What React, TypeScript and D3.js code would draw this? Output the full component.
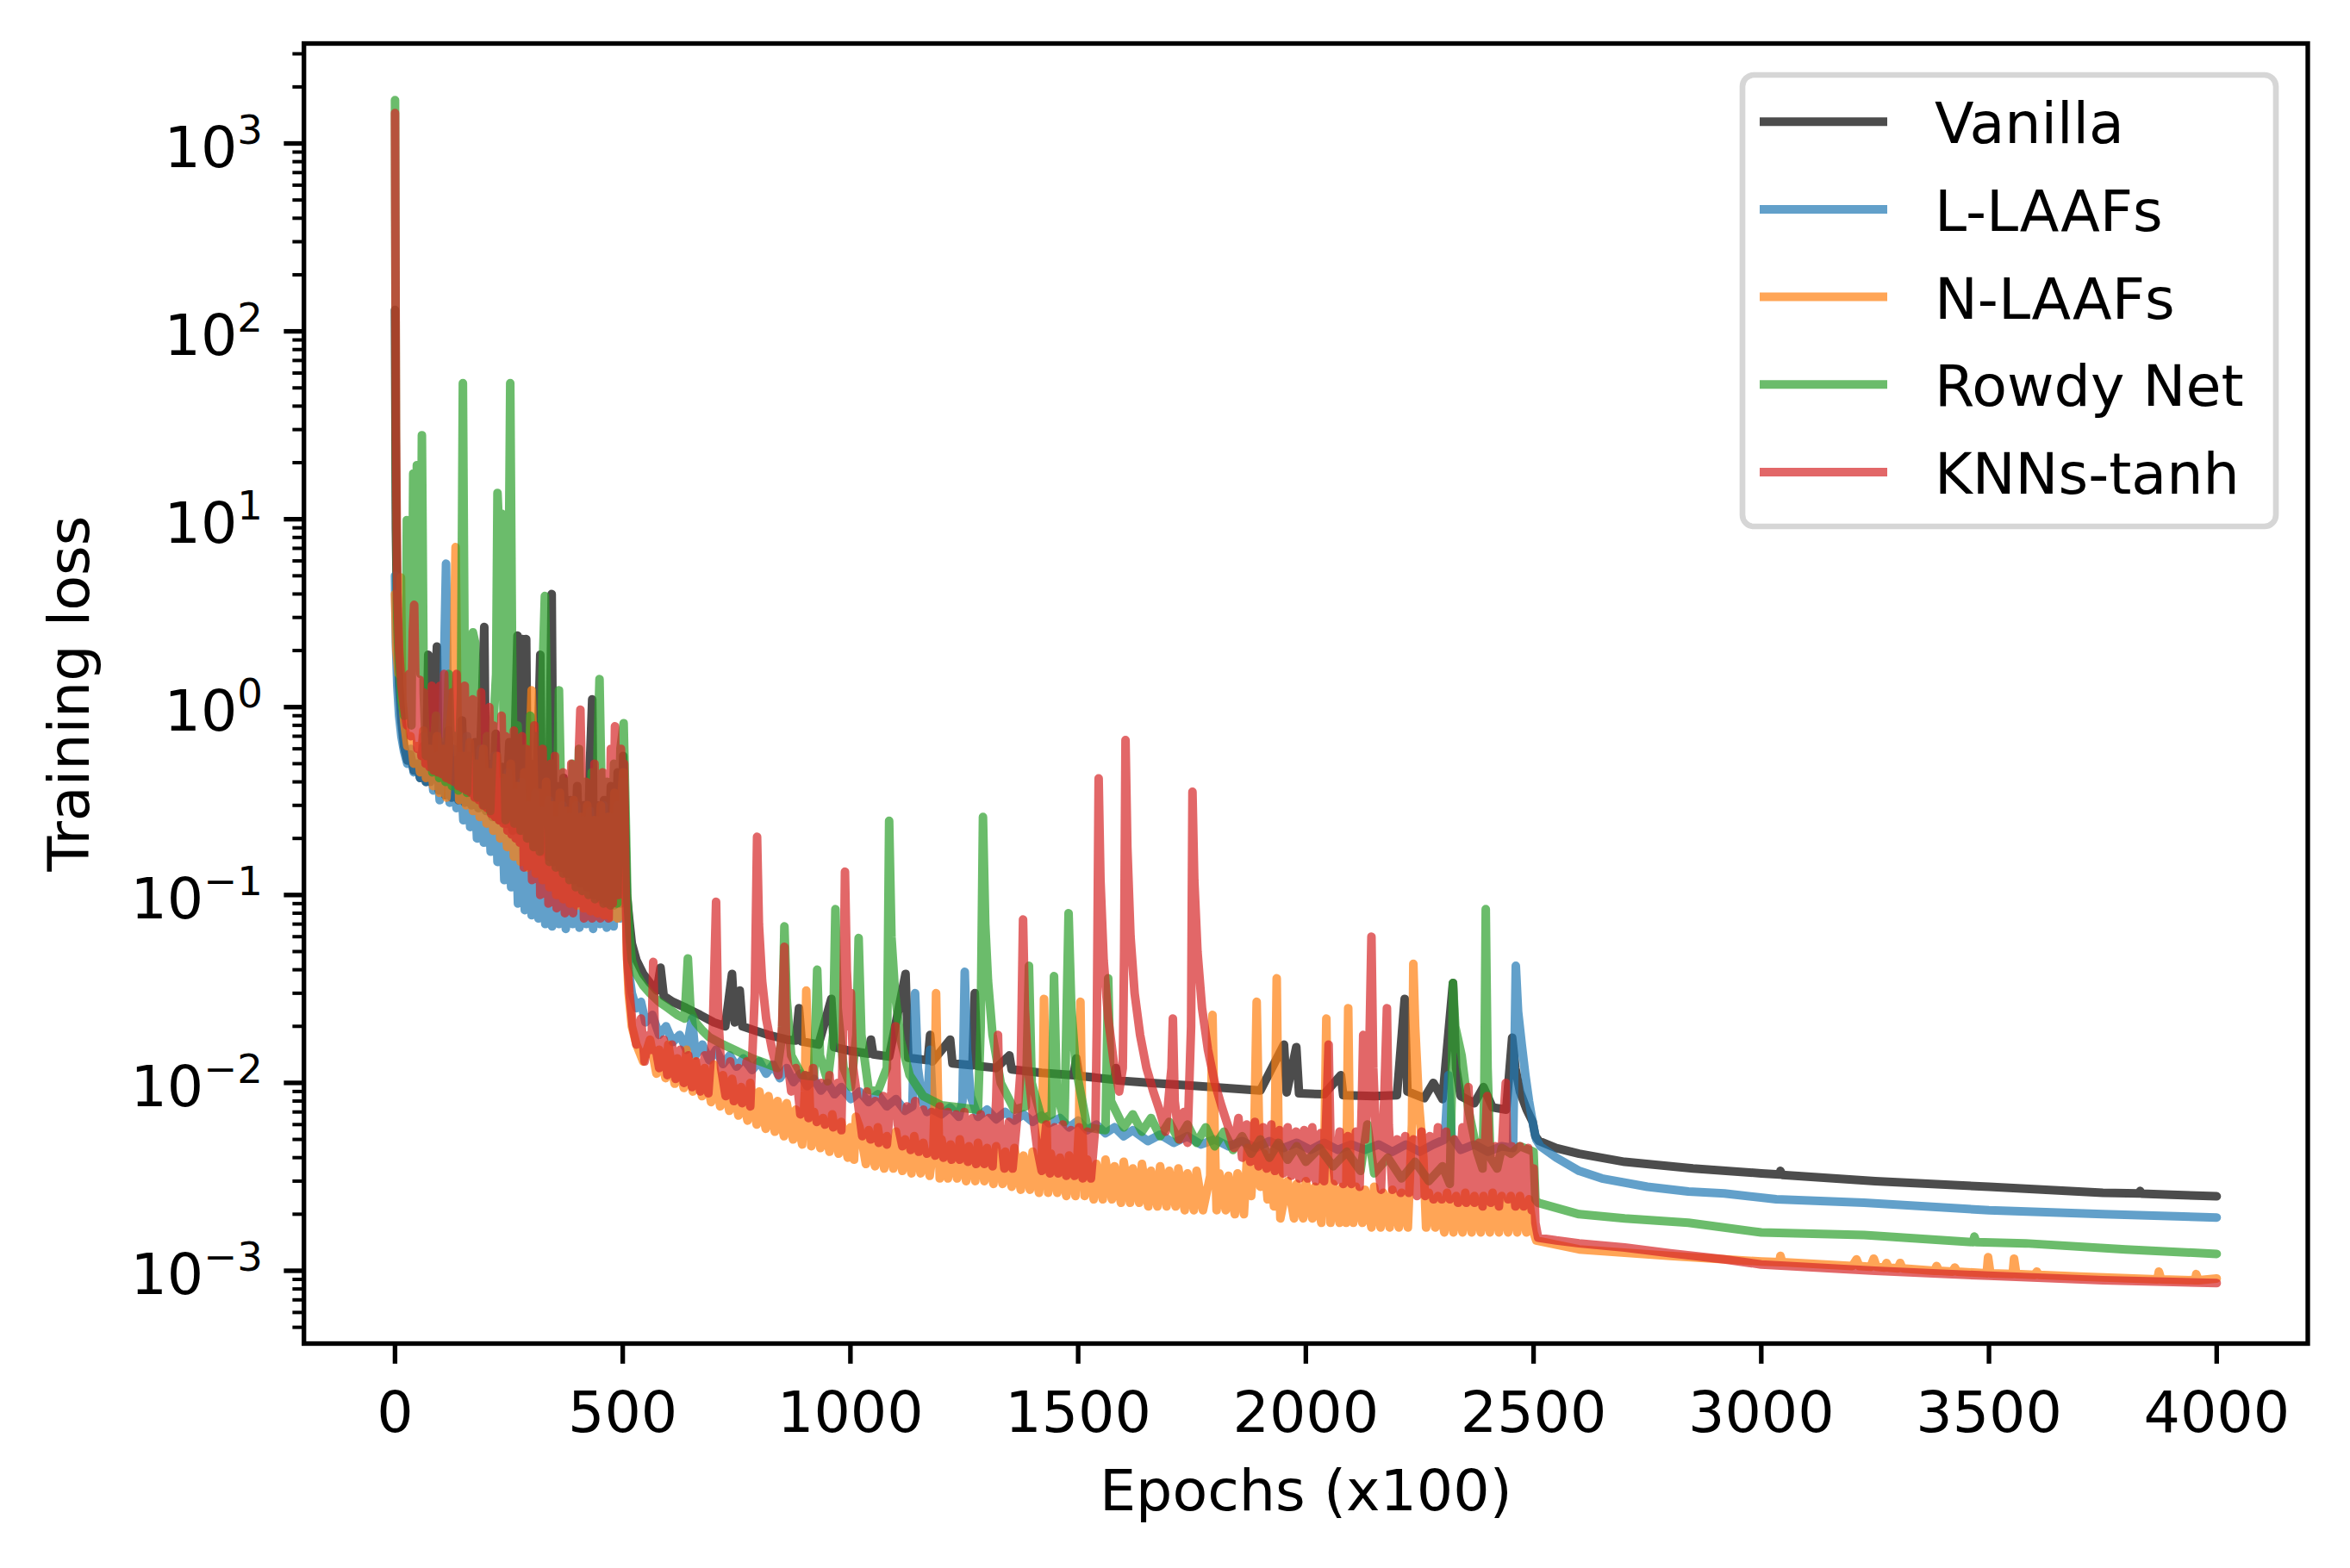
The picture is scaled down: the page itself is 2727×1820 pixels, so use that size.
import React from "react";
import * as d3 from "d3";

type P = [number, number];

const seriesNames = ["Vanilla", "L-LAAFs", "N-LAAFs", "Rowdy Net", "KNNs-tanh"];
const seriesColors = ["#000000", "#1f77b4", "#ff7f0e", "#2ca02c", "#d62728"];
const xTickValues = [0, 500, 1000, 1500, 2000, 2500, 3000, 3500, 4000];
const yDecades = [-3, -2, -1, 0, 1, 2, 3];
const xDomain = [-200, 4200];
const yDomainExp = [-3.3875, 3.532];

const vanilla: P[] = [
  [0,130],[2,9],[5,2.6],[9,1.3],[14,0.85],[20,0.62],[27,0.52],[34,0.56],[41,0.46],[48,0.5],[55,0.42],[62,0.62],[68,0.4],[73,1.9],[77,0.4],[84,0.55],[92,2.1],[96,0.36],[104,0.62],[110,0.34],[117,0.75],[124,0.33],[132,0.52],[139,0.32],[147,0.85],[153,0.31],[161,0.55],[168,0.3],[176,0.65],[183,0.29],[190,0.9],[196,2.67],[200,0.28],[207,0.5],[214,0.26],[221,0.72],[228,0.25],[236,0.48],[243,0.24],[251,0.65],[258,0.22],[264,0.8],[269,2.4],[273,0.22],[280,2.3],[284,0.3],[288,2.3],[292,0.2],[299,0.5],[305,0.18],[312,0.42],[319,1.9],[323,0.17],[330,0.45],[337,0.16],[344,4.0],[348,0.15],[355,0.38],[362,0.14],[370,0.42],[377,0.13],[385,0.32],[392,0.12],[400,0.38],[407,0.115],[415,0.3],[422,0.11],[428,0.5],[433,1.1],[437,0.1],[444,0.3],[451,0.095],[459,0.32],[466,0.09],[474,0.38],[481,0.088],[489,0.45],[496,0.09],[501,0.55],[505,0.25],[509,0.1],[514,0.075],[520,0.055],[530,0.045],[545,0.038],[560,0.034],[575,0.031],[583,0.041],[590,0.029],[610,0.027],[640,0.025],[670,0.023],[700,0.021],[725,0.02],[740,0.038],[746,0.021],[757,0.031],[763,0.02],[790,0.019],[820,0.018],[860,0.017],[880,0.0168],[887,0.025],[893,0.0166],[930,0.016],[958,0.028],[964,0.0155],[1000,0.0148],[1040,0.0143],[1045,0.017],[1050,0.0142],[1085,0.0138],[1121,0.038],[1127,0.0136],[1170,0.0132],[1175,0.018],[1180,0.013],[1219,0.017],[1224,0.0127],[1268,0.0124],[1273,0.03],[1279,0.0123],[1320,0.012],[1349,0.014],[1354,0.0118],[1420,0.0113],[1490,0.011],[1496,0.0135],[1502,0.0109],[1580,0.0104],[1583,0.012],[1587,0.0103],[1660,0.01],[1740,0.0097],[1820,0.0094],[1900,0.0091],[1952,0.016],[1958,0.0089],[1979,0.0155],[1985,0.0088],[2040,0.0087],[2077,0.011],[2082,0.0086],[2150,0.0085],[2200,0.0086],[2217,0.028],[2223,0.009],[2260,0.0083],[2280,0.01],[2300,0.0082],[2323,0.034],[2330,0.012],[2340,0.0085],[2370,0.0078],[2390,0.0095],[2410,0.0074],[2440,0.0072],[2453,0.0174],[2460,0.012],[2470,0.009],[2485,0.0072],[2498,0.0062],[2504,0.0052],[2512,0.0049],[2550,0.0045],[2600,0.0042],[2700,0.0038],[2850,0.0035],[3000,0.0033],[3040,0.00325],[3042,0.0034],[3046,0.00324],[3250,0.003],[3500,0.0028],[3750,0.0026],[3830,0.00258],[3832,0.00266],[3835,0.00257],[3900,0.00254],[4000,0.00249]
];

const lLaafs: P[] = [
  [0,5],[2,2.2],[5,1.3],[9,0.9],[14,0.7],[20,0.58],[27,0.5],[34,0.6],[41,0.45],[48,0.55],[55,0.42],[62,0.7],[68,0.4],[76,0.6],[84,0.36],[92,0.55],[98,0.32],[105,0.8],[112,5.8],[116,0.9],[120,0.31],[128,0.6],[135,0.29],[143,0.55],[150,0.25],[158,0.7],[165,0.23],[173,0.5],[180,0.2],[188,0.6],[195,0.19],[203,0.45],[210,0.17],[218,0.55],[225,0.15],[233,0.4],[240,0.12],[248,0.45],[255,0.11],[263,0.35],[270,0.09],[278,0.4],[285,0.083],[293,0.3],[300,0.078],[308,0.35],[315,0.075],[323,0.28],[330,0.07],[338,0.32],[345,0.068],[353,0.25],[360,0.07],[368,0.3],[375,0.066],[383,0.26],[390,0.07],[398,0.3],[405,0.067],[413,0.25],[420,0.07],[428,0.28],[435,0.066],[443,0.25],[450,0.07],[458,0.3],[465,0.067],[473,0.26],[480,0.068],[488,0.3],[495,0.075],[501,0.4],[505,0.2],[509,0.06],[513,0.04],[520,0.03],[530,0.025],[540,0.027],[550,0.021],[565,0.023],[580,0.018],[595,0.02],[610,0.0165],[625,0.018],[640,0.015],[652,0.022],[660,0.014],[675,0.016],[690,0.0132],[705,0.015],[720,0.0126],[735,0.014],[750,0.0122],[765,0.0135],[784,0.0117],[800,0.013],[815,0.0112],[830,0.0125],[845,0.0106],[860,0.012],[875,0.0101],[890,0.0112],[905,0.0096],[920,0.0105],[935,0.0091],[950,0.01],[965,0.0087],[980,0.0095],[1001,0.0082],[1020,0.009],[1040,0.0079],[1060,0.0087],[1080,0.0075],[1100,0.0082],[1120,0.0071],[1136,0.0075],[1142,0.03],[1148,0.012],[1158,0.008],[1168,0.007],[1175,0.015],[1181,0.0072],[1200,0.0068],[1219,0.0074],[1238,0.0066],[1246,0.008],[1251,0.039],[1256,0.015],[1264,0.0085],[1280,0.0066],[1300,0.0072],[1320,0.0064],[1340,0.007],[1360,0.0063],[1380,0.0068],[1400,0.0062],[1420,0.0067],[1436,0.0061],[1460,0.0065],[1480,0.0058],[1500,0.0063],[1520,0.0056],[1540,0.006],[1560,0.0054],[1580,0.0058],[1600,0.0052],[1620,0.0056],[1653,0.0049],[1680,0.0053],[1710,0.0048],[1740,0.0052],[1770,0.0047],[1800,0.005],[1830,0.0046],[1860,0.0049],[1890,0.0045],[1920,0.0049],[1950,0.0045],[1980,0.0048],[2010,0.0044],[2040,0.0048],[2070,0.0044],[2100,0.0047],[2130,0.0044],[2160,0.0047],[2190,0.0043],[2220,0.0047],[2250,0.0043],[2280,0.0047],[2305,0.005],[2313,0.011],[2320,0.0052],[2340,0.0044],[2370,0.0047],[2400,0.0043],[2430,0.0046],[2455,0.0045],[2461,0.042],[2466,0.024],[2474,0.016],[2482,0.011],[2490,0.008],[2496,0.0066],[2502,0.0055],[2506,0.005],[2515,0.0046],[2550,0.004],[2600,0.0034],[2650,0.0031],[2750,0.0028],[2840,0.00264],[2919,0.00258],[3033,0.0024],[3226,0.0023],[3500,0.0021],[3750,0.002],[4000,0.00192]
];

const nLaafs: P[] = [
  [0,4],[3,2],[8,1.5],[13,4.9],[16,1.1],[21,0.8],[27,0.62],[34,0.7],[41,0.5],[48,0.62],[55,0.45],[62,0.75],[68,0.42],[76,0.6],[84,0.38],[92,0.7],[98,0.35],[106,0.6],[113,0.33],[121,0.8],[128,1.2],[133,7.1],[137,1.0],[141,0.32],[149,0.55],[156,0.3],[164,0.65],[171,0.28],[179,0.5],[186,0.26],[194,0.6],[201,0.24],[209,0.45],[216,0.22],[224,0.55],[231,0.2],[239,0.42],[246,0.18],[254,0.5],[261,0.16],[269,0.38],[276,0.15],[284,0.45],[291,0.14],[296,0.6],[300,1.23],[304,0.5],[309,0.13],[317,0.35],[324,0.12],[332,0.4],[339,0.11],[347,0.3],[354,0.1],[362,0.35],[369,0.095],[377,0.28],[384,0.09],[392,0.32],[399,0.088],[407,0.26],[414,0.085],[422,0.3],[429,0.082],[437,0.25],[444,0.08],[452,0.3],[459,0.078],[467,0.26],[474,0.076],[482,0.35],[489,0.075],[496,0.3],[501,0.45],[505,0.15],[509,0.05],[513,0.03],[520,0.02],[530,0.016],[545,0.013],
  [560,0.017],[574,0.0112],[580,0.015],[594,0.0106],[600,0.016],[614,0.0099],[620,0.0135],[634,0.0094],[640,0.015],[654,0.009],[660,0.013],[674,0.0085],[680,0.012],[694,0.0079],[700,0.0125],[714,0.0075],[720,0.011],[734,0.0071],[740,0.0105],[754,0.0067],[760,0.0095],[774,0.0063],[780,0.01],[794,0.006],[800,0.009],[814,0.0057],[820,0.0085],[834,0.0055],[840,0.008],[854,0.0052],[860,0.0078],[874,0.005],[880,0.0072],[894,0.0047],[900,0.009],[903,0.031],[908,0.012],[914,0.0046],[920,0.007],[934,0.0045],[940,0.0065],[954,0.0043],[960,0.0068],[974,0.0042],[980,0.0062],[994,0.004],[1000,0.0058],[1008,0.0039],[1012,0.0066],[1020,0.0058],[1034,0.0037],[1040,0.0056],[1054,0.0036],[1060,0.0058],[1074,0.0035],[1080,0.0052],[1094,0.0035],[1100,0.0055],[1114,0.0034],[1120,0.005],[1134,0.0033],[1140,0.0052],[1154,0.0033],[1160,0.0048],[1174,0.0032],[1182,0.0045],[1185,0.008],[1188,0.03],[1192,0.009],[1196,0.0031],[1200,0.005],[1214,0.0031],[1220,0.0047],[1234,0.0031],[1240,0.005],[1254,0.003],[1260,0.0046],[1274,0.003],[1280,0.0048],[1294,0.003],[1300,0.0045],[1314,0.0029],[1320,0.0046],[1334,0.0029],[1340,0.0043],[1354,0.0028],[1360,0.0045],[1374,0.0027],[1380,0.0041],[1394,0.0027],[1400,0.0043],[1414,0.0026],[1420,0.0035],[1425,0.028],[1430,0.007],[1434,0.0026],[1440,0.0042],[1454,0.0026],[1460,0.004],[1474,0.0025],[1480,0.0041],[1494,0.0025],[1502,0.006],[1505,0.027],[1509,0.006],[1514,0.0025],[1520,0.0039],[1534,0.0024],[1540,0.0037],[1554,0.0024],[1560,0.0039],[1574,0.0024],[1580,0.0036],[1594,0.0023],[1600,0.0038],[1614,0.0023],[1620,0.0035],[1634,0.0023],[1640,0.0037],[1654,0.0022],[1660,0.0034],[1674,0.0022],[1680,0.0036],[1694,0.0022],[1700,0.0034],[1714,0.0022],[1720,0.0035],[1734,0.0021],[1740,0.0033],[1754,0.0021],[1760,0.0034],[1774,0.0021],[1790,0.0032],[1795,0.023],[1800,0.005],[1804,0.0021],[1810,0.0033],[1824,0.0021],[1830,0.0032],[1844,0.002],[1850,0.0033],[1864,0.002],[1872,0.0045],[1880,0.0025],[1886,0.0042],[1892,0.027],[1897,0.006],[1900,0.0028],[1908,0.0042],[1916,0.0024],[1922,0.004],[1930,0.0022],[1936,0.036],[1940,0.005],[1944,0.0019],[1960,0.003],[1974,0.0019],[1980,0.0029],[1994,0.0019],[2000,0.003],[2014,0.0019],[2020,0.0028],[2034,0.0018],[2041,0.005],[2045,0.022],[2049,0.004],[2054,0.0018],[2060,0.0029],[2074,0.0018],[2080,0.0028],[2088,0.0018],[2093,0.025],[2097,0.004],[2104,0.0018],[2110,0.0028],[2124,0.0018],[2130,0.0027],[2144,0.0017],[2150,0.0028],[2164,0.0017],[2170,0.0026],[2184,0.0017],[2190,0.0027],[2204,0.0017],[2210,0.0026],[2224,0.0017],[2233,0.006],[2236,0.043],[2240,0.02],[2248,0.008],[2258,0.004],[2264,0.0017],[2270,0.0026],[2284,0.0017],[2290,0.0025],[2304,0.0016],[2310,0.0026],[2324,0.0016],[2330,0.0025],[2344,0.0016],[2350,0.0026],[2364,0.0016],[2370,0.0025],[2384,0.0016],[2390,0.0025],[2404,0.0016],[2410,0.0026],[2424,0.0016],[2430,0.0025],[2444,0.0016],[2450,0.0025],[2464,0.0016],[2470,0.0025],[2484,0.0016],[2490,0.0024],[2500,0.0016],
  [2506,0.00145],[2600,0.0013],[2800,0.0012],[3000,0.00112],[3040,0.00111],[3042,0.0012],[3046,0.00111],[3200,0.00106],[3209,0.00115],[3215,0.00106],[3240,0.00105],[3247,0.00116],[3253,0.00105],[3270,0.00104],[3275,0.0011],[3280,0.00104],[3300,0.00103],[3305,0.0011],[3310,0.00103],[3380,0.001],[3385,0.00106],[3390,0.001],[3420,0.00099],[3425,0.00104],[3430,0.00099],[3495,0.00097],[3498,0.00118],[3503,0.00097],[3552,0.00096],[3555,0.00116],[3560,0.00096],[3600,0.00095],[3605,0.00099],[3610,0.00095],[3700,0.00093],[3870,0.0009],[3873,0.00099],[3878,0.0009],[3953,0.00089],[3955,0.00096],[3960,0.00089],[4000,0.00091]
];

const rowdy: P[] = [
  [0,1700],[2,20],[5,3],[9,1.6],[14,1.1],[20,0.9],[24,1.5],[26,9.9],[29,1.2],[33,3],[36,0.8],[40,17.5],[44,4],[48,19.4],[52,5],[56,1.5],[59,28],[63,1.2],[68,0.55],[75,0.7],[82,0.45],[90,0.9],[97,0.42],[104,0.65],[111,0.4],[118,1.5],[125,0.38],[132,0.7],[139,0.36],[145,1.2],[149,53],[153,1.5],[158,0.35],[164,1.2],[171,2.5],[176,2.2],[181,0.33],[188,0.6],[195,0.3],[202,0.7],[209,0.28],[216,0.8],[222,1.5],[225,13.8],[229,8],[234,10.7],[238,1.0],[243,0.25],[249,3],[253,53],[257,2],[262,0.24],[269,0.8],[276,0.22],[283,0.6],[290,0.2],[297,0.9],[304,0.18],[311,0.7],[318,0.17],[324,1.5],[329,3.9],[334,1.0],[339,0.15],[346,0.5],[353,0.14],[360,1.23],[364,0.4],[369,0.13],[376,0.4],[383,0.12],[390,0.5],[397,0.11],[404,0.6],[411,0.105],[418,0.4],[425,0.1],[432,0.45],[439,0.095],[445,0.6],[449,1.41],[453,0.4],[458,0.09],[466,0.4],[473,0.088],[481,0.5],[488,0.09],[495,0.6],[502,0.82],[506,0.3],[510,0.1],[515,0.06],[520,0.045],[530,0.038],[545,0.033],[560,0.03],[580,0.027],[600,0.025],[620,0.023],[636,0.022],[643,0.046],[649,0.024],[660,0.021],[675,0.019],[690,0.0175],[720,0.016],[750,0.0148],[784,0.0135],[810,0.0128],[840,0.012],[850,0.018],[855,0.068],[860,0.028],[870,0.014],[893,0.011],[920,0.0108],[927,0.04],[933,0.014],[950,0.0102],[962,0.018],[967,0.084],[972,0.025],[985,0.012],[1001,0.0095],[1013,0.018],[1018,0.059],[1024,0.018],[1040,0.0092],[1060,0.009],[1080,0.012],[1085,0.248],[1090,0.06],[1098,0.03],[1110,0.017],[1130,0.011],[1160,0.0085],[1200,0.0076],[1240,0.0074],[1280,0.0072],[1286,0.02],[1291,0.26],[1296,0.07],[1302,0.035],[1312,0.018],[1330,0.01],[1360,0.0072],[1385,0.0075],[1392,0.042],[1398,0.01],[1420,0.0064],[1442,0.0068],[1447,0.037],[1453,0.009],[1470,0.0062],[1479,0.08],[1485,0.025],[1495,0.012],[1520,0.0058],[1560,0.0056],[1566,0.036],[1572,0.008],[1600,0.0058],[1620,0.0068],[1640,0.0055],[1660,0.0065],[1680,0.0052],[1700,0.0062],[1720,0.005],[1740,0.006],[1760,0.0048],[1780,0.0058],[1800,0.0046],[1820,0.0055],[1840,0.0044],[1860,0.0052],[1880,0.0042],[1900,0.005],[1920,0.004],[1940,0.0048],[1960,0.0039],[1980,0.0046],[2000,0.0038],[2030,0.0045],[2060,0.0036],[2090,0.0043],[2120,0.0034],[2135,0.006],[2150,0.0033],[2180,0.004],[2210,0.0031],[2240,0.0038],[2270,0.003],[2300,0.0036],[2316,0.0029],[2320,0.008],[2323,0.034],[2328,0.02],[2342,0.014],[2357,0.0072],[2376,0.0043],[2388,0.0035],[2392,0.01],[2395,0.084],[2399,0.012],[2405,0.004],[2420,0.0035],[2430,0.0045],[2450,0.0042],[2470,0.0046],[2490,0.0044],[2500,0.0043],[2504,0.0024],[2510,0.0023],[2600,0.002],[2700,0.0019],[2840,0.0018],[3000,0.0016],[3226,0.00155],[3465,0.00142],[3468,0.00152],[3472,0.00142],[3580,0.0014],[3800,0.0013],[4000,0.00123]
];

const knnsTanh: P[] = [
  [0,1450],[2,30],[5,4],[9,2],[14,1.3],[20,1.0],[26,0.8],[31,1.5],[35,0.7],[39,2.5],[42,3.5],[45,1.2],[49,0.6],[54,1.4],[58,0.55],[63,1.2],[67,0.5],[72,1.1],[76,0.48],[81,1.3],[85,0.46],[90,1.0],[94,0.45],[99,1.3],[103,0.44],[108,1.5],[112,0.42],[117,0.9],[121,0.41],[126,1.2],[130,0.4],[135,1.5],[139,0.38],[144,1.0],[148,0.37],[153,1.3],[157,0.36],[162,0.8],[166,0.35],[171,1.1],[175,0.33],[180,0.9],[184,0.32],[189,1.2],[193,0.3],[198,0.7],[202,0.29],[207,1.0],[211,0.27],[216,0.8],[220,0.26],[225,0.6],[229,0.25],[234,0.9],[238,0.24],[243,0.7],[247,0.22],[252,0.55],[256,0.21],[261,0.75],[265,0.2],[270,0.5],[274,0.19],[279,0.7],[283,0.14],[288,0.6],[292,0.17],[297,0.45],[301,0.12],[306,0.8],[310,0.15],[315,0.5],[319,0.1],[324,0.6],[328,0.14],[333,0.4],[337,0.09],[342,0.5],[346,0.12],[351,0.55],[355,0.085],[360,0.4],[364,0.11],[369,0.45],[373,0.08],[378,0.35],[382,0.1],[387,0.5],[391,0.08],[396,0.3],[400,0.09],[404,0.6],[407,0.97],[411,0.3],[415,0.075],[420,0.4],[424,0.09],[429,0.3],[433,0.075],[438,0.5],[442,0.085],[447,0.35],[451,0.075],[456,0.45],[460,0.08],[465,0.3],[469,0.075],[474,0.6],[478,0.09],[483,0.79],[487,0.2],[491,0.1],[496,0.6],[500,0.4],[503,0.5],[506,0.12],[510,0.045],
  [515,0.03],[522,0.02],[530,0.016],[540,0.022],[548,0.013],[558,0.018],[563,0.015],[567,0.044],[571,0.016],[580,0.012],[590,0.017],[598,0.011],[608,0.016],[616,0.0105],[626,0.015],[634,0.01],[644,0.014],[652,0.0095],[662,0.013],[670,0.009],[680,0.014],[688,0.0088],[698,0.02],[705,0.092],[709,0.025],[716,0.012],[726,0.0085],[736,0.013],[744,0.008],[754,0.012],[762,0.0078],[772,0.013],[780,0.0075],[790,0.03],[795,0.204],[799,0.07],[806,0.035],[815,0.022],[828,0.015],[842,0.011],[850,0.02],[855,0.053],[859,0.015],[870,0.009],[880,0.012],[890,0.0068],[900,0.011],[908,0.0065],[918,0.012],[926,0.0062],[936,0.01],[944,0.006],[954,0.011],[962,0.0058],[972,0.01],[980,0.0056],[985,0.03],[988,0.133],[992,0.04],[998,0.02],[1001,0.03],[1006,0.012],[1016,0.008],[1026,0.0052],[1036,0.009],[1044,0.005],[1054,0.008],[1062,0.0048],[1072,0.0085],[1080,0.0047],[1090,0.009],[1099,0.02],[1104,0.006],[1114,0.0046],[1124,0.0075],[1132,0.0044],[1142,0.008],[1150,0.0043],[1160,0.0072],[1168,0.0042],[1178,0.007],[1186,0.0041],[1196,0.0075],[1204,0.004],[1214,0.007],[1222,0.0039],[1232,0.0068],[1240,0.0039],[1250,0.007],[1258,0.0038],[1268,0.0065],[1276,0.0037],[1286,0.0068],[1294,0.0037],[1304,0.0065],[1312,0.0036],[1320,0.008],[1324,0.018],[1328,0.006],[1338,0.0035],[1348,0.0062],[1356,0.0035],[1366,0.0065],[1374,0.012],[1379,0.074],[1383,0.025],[1390,0.012],[1400,0.007],[1410,0.0045],[1420,0.0034],[1430,0.006],[1438,0.0033],[1448,0.0058],[1456,0.0033],[1466,0.006],[1474,0.0032],[1484,0.0056],[1492,0.0032],[1502,0.0058],[1510,0.0031],[1520,0.0055],[1528,0.0031],[1538,0.006],[1541,0.02],[1545,0.417],[1549,0.12],[1556,0.045],[1566,0.022],[1578,0.013],[1590,0.009],[1598,0.012],[1601,0.05],[1604,0.668],[1608,0.18],[1615,0.06],[1624,0.03],[1636,0.018],[1650,0.012],[1665,0.009],[1680,0.007],[1692,0.0055],[1700,0.009],[1705,0.012],[1708,0.022],[1712,0.008],[1722,0.005],[1732,0.007],[1740,0.0048],[1748,0.02],[1751,0.354],[1755,0.12],[1762,0.05],[1772,0.025],[1785,0.015],[1800,0.01],[1815,0.0075],[1830,0.0058],[1842,0.0045],[1852,0.0065],[1860,0.004],[1870,0.006],[1878,0.0038],[1888,0.0062],[1896,0.0036],[1906,0.0058],[1914,0.0035],[1924,0.006],[1932,0.0034],[1942,0.0056],[1950,0.0033],[1960,0.0058],[1968,0.0032],[1978,0.0055],[1986,0.0031],[1996,0.0056],[2004,0.0031],[2014,0.0058],[2022,0.003],[2032,0.0054],[2040,0.003],[2046,0.008],[2050,0.016],[2054,0.005],[2064,0.003],[2074,0.0055],[2082,0.0029],[2092,0.0052],[2100,0.0029],[2110,0.0055],[2118,0.0028],[2123,0.008],[2126,0.018],[2130,0.005],[2138,0.01],[2144,0.06],[2148,0.012],[2155,0.0045],[2165,0.0027],[2172,0.008],[2178,0.025],[2182,0.006],[2190,0.0027],[2200,0.005],[2208,0.0026],[2218,0.0052],[2226,0.0026],[2236,0.005],[2244,0.0025],[2254,0.0055],[2262,0.0025],[2272,0.0052],[2280,0.0024],[2290,0.0058],[2298,0.0024],[2308,0.0055],[2316,0.0024],[2326,0.005],[2334,0.0023],[2344,0.0058],[2352,0.0023],[2357,0.0095],[2362,0.0045],[2370,0.0023],[2380,0.0048],[2388,0.0022],[2398,0.0085],[2406,0.0023],[2416,0.0046],[2424,0.0022],[2434,0.0065],[2439,0.01],[2444,0.0024],[2452,0.0046],[2460,0.0022],[2470,0.0046],[2478,0.0022],[2488,0.0045],[2496,0.0021],[2500,0.0035],[2504,0.0018],[2510,0.0015],[2550,0.00145],[2600,0.0014],[2700,0.00133],[2800,0.00124],[2919,0.00115],[3000,0.00108],[3250,0.001],[3500,0.00094],[3750,0.00089],[4000,0.00086]
];

const seriesData: P[][] = [vanilla, lLaafs, nLaafs, rowdy, knnsTanh];

const W = 2727;
const H = 1820;
const PLOT = { left: 352.7, right: 2678, top: 50.5, bottom: 1559.5 };
const PT = 480 / 72;
const FONT = 10 * PT;
const FAMILY = "'DejaVu Sans', sans-serif";

export default function App() {
  const x = d3.scaleLinear().domain(xDomain).range([PLOT.left, PLOT.right]);
  const y = d3
    .scaleLog()
    .domain([Math.pow(10, yDomainExp[0]), Math.pow(10, yDomainExp[1])])
    .range([PLOT.bottom, PLOT.top]);
  const line = d3
    .line<P>()
    .x((d) => x(d[0]))
    .y((d) => y(d[1]));

  const [yLo, yHi] = y.domain();
  const minor: number[] = [];
  for (let d = -4; d <= 3; d++) {
    for (let k = 2; k <= 9; k++) {
      const v = k * Math.pow(10, d);
      if (v >= yLo && v <= yHi) minor.push(v);
    }
  }

  const majorLen = 3.5 * PT;
  const minorLen = 2 * PT;
  const majorW = 0.8 * PT;
  const minorW = 0.6 * PT;
  const lw = 1.5 * PT;

  const legX = 2022;
  const legY = 87;
  const legW = 619;
  const legH = 524;
  const rowY0 = 141.2;
  const rowStep = 101.7;

  return (
    <div style={{ position: "absolute", left: 0, top: 0, background: "#fff" }}>
      <svg width={W} height={H} viewBox={`0 0 ${W} ${H}`} style={{ display: "block" }}>
        <rect x={0} y={0} width={W} height={H} fill="#ffffff" />
        <defs>
          <clipPath id="plotclip">
            <rect x={PLOT.left} y={PLOT.top} width={PLOT.right - PLOT.left} height={PLOT.bottom - PLOT.top} />
          </clipPath>
        </defs>
        <g clipPath="url(#plotclip)">
          {seriesData.map((s, i) => (
            <path
              key={seriesNames[i]}
              d={line(s) || ""}
              fill="none"
              stroke={seriesColors[i]}
              strokeOpacity={0.7}
              strokeWidth={lw}
              strokeLinejoin="round"
              strokeLinecap="round"
            />
          ))}
        </g>

        <rect
          x={PLOT.left}
          y={PLOT.top}
          width={PLOT.right - PLOT.left}
          height={PLOT.bottom - PLOT.top}
          fill="none"
          stroke="#000"
          strokeWidth={majorW}
        />

        {xTickValues.map((t) => (
          <g key={`xt${t}`}>
            <line x1={x(t)} x2={x(t)} y1={PLOT.bottom} y2={PLOT.bottom + majorLen} stroke="#000" strokeWidth={majorW} />
            <text x={x(t)} y={1662} textAnchor="middle" fontFamily={FAMILY} fontSize={FONT} fill="#000">
              {String(t)}
            </text>
          </g>
        ))}

        {minor.map((v, i) => (
          <line key={`ym${i}`} x1={PLOT.left - minorLen} x2={PLOT.left} y1={y(v)} y2={y(v)} stroke="#000" strokeWidth={minorW} />
        ))}

        {yDecades.map((e) => {
          const yy = y(Math.pow(10, e));
          const expText = e < 0 ? `\u2212${-e}` : `${e}`;
          return (
            <g key={`yt${e}`}>
              <line x1={PLOT.left - majorLen} x2={PLOT.left} y1={yy} y2={yy} stroke="#000" strokeWidth={majorW} />
              <text x={305} y={yy + 27} textAnchor="end" fontFamily={FAMILY} fontSize={FONT} fill="#000">
                10
                <tspan dy={-27} fontSize={FONT * 0.7}>
                  {expText}
                </tspan>
              </text>
            </g>
          );
        })}

        <text x={(PLOT.left + PLOT.right) / 2} y={1753} textAnchor="middle" fontFamily={FAMILY} fontSize={FONT} fill="#000">
          Epochs (x100)
        </text>
        <text
          transform={`translate(103, ${(PLOT.top + PLOT.bottom) / 2}) rotate(-90)`}
          textAnchor="middle"
          fontFamily={FAMILY}
          fontSize={FONT}
          fill="#000"
        >
          Training loss
        </text>

        <rect
          x={legX}
          y={legY}
          width={legW}
          height={legH}
          rx={0.2 * FONT}
          ry={0.2 * FONT}
          fill="#ffffff"
          fillOpacity={0.8}
          stroke="#cccccc"
          strokeOpacity={0.8}
          strokeWidth={1.0 * PT}
        />
        {seriesNames.map((name, i) => {
          const ry = rowY0 + i * rowStep;
          return (
            <g key={`lg${name}`}>
              <line x1={2042} x2={2190} y1={ry} y2={ry} stroke={seriesColors[i]} strokeOpacity={0.7} strokeWidth={lw} />
              <text x={2245} y={ry + 25} fontFamily={FAMILY} fontSize={FONT} fill="#000">
                {name}
              </text>
            </g>
          );
        })}
      </svg>
    </div>
  );
}
